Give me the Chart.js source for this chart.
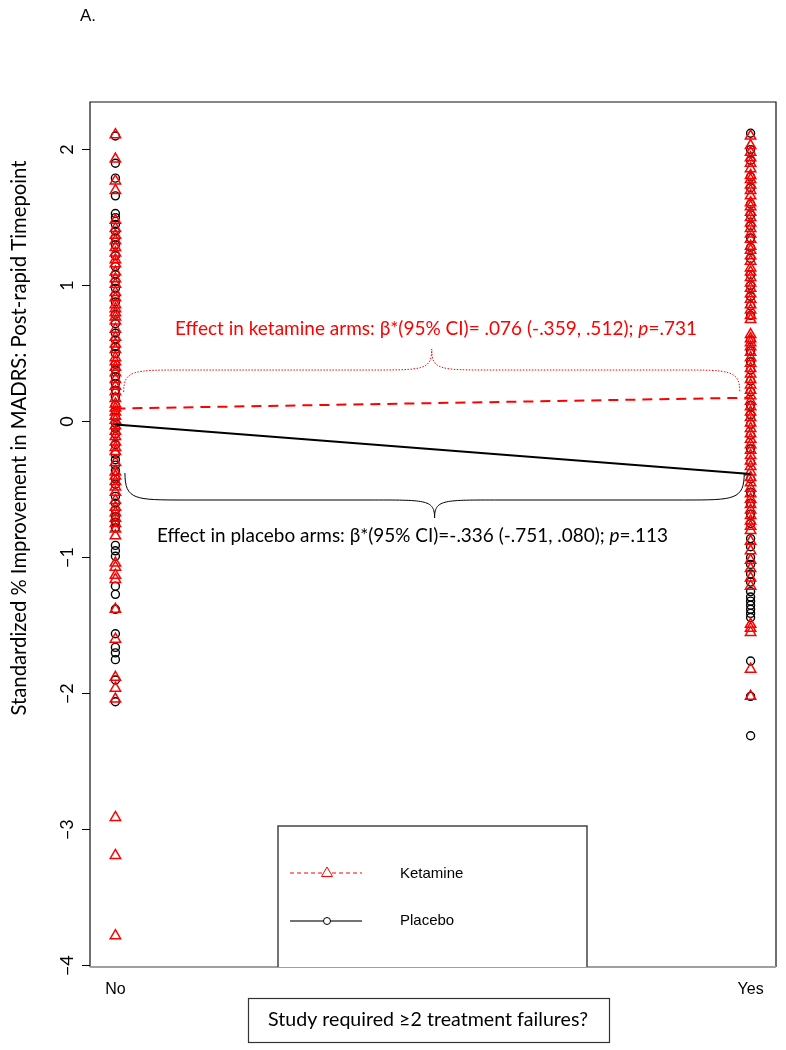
<!DOCTYPE html>
<html><head><meta charset="utf-8">
<script src="https://cdn.jsdelivr.net/npm/chart.js@4.4.0/dist/chart.umd.min.js"></script>
<style>html,body{margin:0;padding:0;background:#fff;}#wrap{position:relative;width:786px;height:1050px;}</style>
</head><body><div id="wrap"><canvas id="c" width="786" height="1050"></canvas></div>
<script>
const groups = ['No', 'Yes'];
const yTicks = [-4, -3, -2, -1, 0, 1, 2];
const ketNo = [2.11, 1.93, 1.77, 1.70, 1.48, 1.42, 1.37, 1.33, 1.28, 1.24, 1.19, 1.16, 1.10, 1.05, 1.01, 0.95, 0.91, 0.86, 0.83, 0.80, 0.77, 0.74, 0.68, 0.62, 0.57, 0.53, 0.47, 0.44, 0.40, 0.36, 0.31, 0.26, 0.22, 0.17, 0.13, 0.10, 0.07, 0.04, 0.01, -0.03, -0.07, -0.11, -0.15, -0.19, -0.22, -0.30, -0.37, -0.40, -0.44, -0.48, -0.52, -0.58, -0.63, -0.67, -0.71, -0.75, -0.79, -0.84, -1.04, -1.07, -1.13, -1.16, -1.38, -1.60, -1.88, -1.96, -2.04, -2.91, -3.19, -3.78];
const plaNo = [2.10, 1.90, 1.79, 1.66, 1.53, 1.50, 1.45, 1.40, 1.35, 1.30, 1.22, 1.14, 1.08, 1.03, 0.98, 0.93, 0.88, 0.79, 0.72, 0.65, 0.60, 0.55, 0.50, 0.42, 0.38, 0.33, 0.28, 0.23, 0.18, 0.12, 0.08, 0.03, -0.01, -0.05, -0.09, -0.17, -0.24, -0.28, -0.32, -0.36, -0.42, -0.46, -0.55, -0.60, -0.65, -0.70, -0.74, -0.78, -0.91, -0.95, -0.99, -1.21, -1.27, -1.38, -1.56, -1.66, -1.70, -1.75, -1.90, -2.06];
const ketYes = [2.10, 2.03, 1.98, 1.94, 1.90, 1.86, 1.81, 1.78, 1.74, 1.70, 1.66, 1.61, 1.58, 1.54, 1.50, 1.46, 1.42, 1.38, 1.34, 1.29, 1.26, 1.22, 1.18, 1.13, 1.10, 1.06, 1.02, 0.98, 0.94, 0.90, 0.86, 0.82, 0.78, 0.75, 0.64, 0.61, 0.58, 0.55, 0.51, 0.47, 0.43, 0.39, 0.35, 0.31, 0.27, 0.23, 0.19, 0.15, 0.11, 0.07, 0.03, -0.01, -0.05, -0.09, -0.13, -0.17, -0.21, -0.25, -0.29, -0.33, -0.37, -0.41, -0.45, -0.49, -0.53, -0.57, -0.61, -0.65, -0.69, -0.73, -0.77, -0.80, -0.88, -0.95, -1.02, -1.08, -1.15, -1.21, -1.49, -1.52, -1.55, -1.82, -2.02];
const plaYes = [2.12, 2.00, 1.92, 1.80, 1.72, 1.60, 1.52, 1.44, 1.35, 1.28, 1.20, 1.08, 1.00, 0.92, 0.85, 0.78, 0.60, 0.52, 0.44, 0.38, 0.30, 0.22, 0.12, 0.05, -0.02, -0.10, -0.20, -0.30, -0.42, -0.52, -0.60, -0.68, -0.75, -0.86, -0.92, -1.00, -1.05, -1.12, -1.18, -1.25, -1.29, -1.32, -1.35, -1.38, -1.41, -1.44, -1.76, -2.02, -2.31];
const ketFit = [0.096, 0.176];
const plaFit = [-0.022, -0.385];
const ketText = ['Effect in ketamine arms: \u03b2*(95% CI)= .076 (-.359, .512); ', 'p', '=.731'];
const plaText = ['Effect in placebo arms: \u03b2*(95% CI)=-.336 (-.751, .080); ', 'p', '=.113'];
const legendLabels = ['Ketamine', 'Placebo'];
const yTitle = 'Standardized % Improvement in MADRS: Post-rapid Timepoint';
const xTitle = 'Study required \u22652 treatment failures?';
const panelLabel = 'A.';

const RED = '#ff0000';
const toPts = (no, yes) => no.map(v => ({x: 0, y: v})).concat(yes.map(v => ({x: 1, y: v})));

function drawSegs(ctx, segs, x, y, width, size, family, color, align) {
  ctx.save();
  ctx.fillStyle = color;
  ctx.textBaseline = 'middle';
  ctx.textAlign = 'left';
  const fonts = segs.map((s, i) => (i === 1 && segs.length === 3 ? 'italic ' : '') + size + 'px ' + family);
  let tot = 0;
  const ws = segs.map((s, i) => { ctx.font = fonts[i]; const w = ctx.measureText(s).width; tot += w; return w; });
  const sc = width ? width / tot : 1;
  const x0 = align === 'center' ? x - tot * sc / 2 : x;
  ctx.translate(x0, y);
  ctx.scale(sc, 1);
  let cx = 0;
  segs.forEach((s, i) => { ctx.font = fonts[i]; ctx.fillText(s, cx, 0); cx += ws[i]; });
  ctx.restore();
}

function brace(ctx, x1, x2, yEnd, yMid, yTip) {
  const xm = (x1 + x2) / 2;
  const d = 60;
  ctx.beginPath();
  ctx.moveTo(x1, yEnd);
  ctx.bezierCurveTo(x1, yMid, x1 + 10, yMid, x1 + d, yMid);
  ctx.lineTo(xm - d, yMid);
  ctx.bezierCurveTo(xm - 8, yMid, xm, yMid, xm, yTip);
  ctx.bezierCurveTo(xm, yMid, xm + 8, yMid, xm + d, yMid);
  ctx.lineTo(x2 - d, yMid);
  ctx.bezierCurveTo(x2 - 10, yMid, x2, yMid, x2, yEnd);
  ctx.stroke();
}

const deco = {
  id: 'deco',
  afterDatasetsDraw(chart) {
    const ctx = chart.ctx;
    const a = chart.chartArea;
    const xs = chart.scales.x, ys = chart.scales.y;
    ctx.save();
    ctx.strokeStyle = '#111';
    ctx.lineWidth = 1.2;
    ctx.beginPath();
    ctx.moveTo(a.left, a.bottom); ctx.lineTo(a.left, a.top); ctx.lineTo(a.right, a.top); ctx.lineTo(a.right, a.bottom);
    ctx.stroke();
    ctx.strokeStyle = '#a0a0a0';
    ctx.lineWidth = 2;
    ctx.beginPath(); ctx.moveTo(a.left, a.bottom); ctx.lineTo(a.right, a.bottom); ctx.stroke();
    yTicks.forEach(t => {
      const py = ys.getPixelForValue(t);
      ctx.save();
      ctx.translate(67, py);
      ctx.rotate(-Math.PI / 2);
      drawSegs(ctx, [String(t).replace('-', '\u2212')], 0, 0, 0, 18, 'Lato', '#000', 'center');
      ctx.restore();
    });
    ctx.save();
    ctx.translate(19, 438);
    ctx.rotate(-Math.PI / 2);
    drawSegs(ctx, [yTitle], 0, 0, 555, 22, 'Lato', '#000', 'center');
    ctx.restore();
    ctx.lineWidth = 1;
    ctx.strokeStyle = RED;
    ctx.setLineDash([1.5, 1.5]);
    brace(ctx, xs.getPixelForValue(0.013), xs.getPixelForValue(0.983), 392, 370, 349);
    ctx.setLineDash([]);
    ctx.strokeStyle = '#000';
    brace(ctx, xs.getPixelForValue(0.015), xs.getPixelForValue(0.99), 473, 500, 518);
    drawSegs(ctx, ketText, 175, 329, 522, 20, 'Lato', RED, 'left');
    drawSegs(ctx, plaText, 157, 536, 511, 20, 'Lato', '#000', 'left');
    ctx.fillStyle = '#fff';
    ctx.fillRect(278, 826, 309, a.bottom - 826);
    ctx.strokeStyle = '#444';
    ctx.lineWidth = 1.5;
    ctx.beginPath(); ctx.moveTo(278, a.bottom); ctx.lineTo(278, 826); ctx.lineTo(587, 826); ctx.lineTo(587, a.bottom); ctx.stroke();
    ctx.strokeStyle = RED; ctx.lineWidth = 1; ctx.setLineDash([4, 3]);
    ctx.beginPath(); ctx.moveTo(290, 873); ctx.lineTo(362, 873); ctx.stroke();
    ctx.setLineDash([]);
    ctx.fillStyle = '#fff';
    ctx.beginPath(); ctx.moveTo(327, 867); ctx.lineTo(332.5, 876.5); ctx.lineTo(321.5, 876.5); ctx.closePath(); ctx.fill(); ctx.stroke();
    ctx.strokeStyle = '#444'; ctx.lineWidth = 1.5;
    ctx.beginPath(); ctx.moveTo(290, 921); ctx.lineTo(362, 921); ctx.stroke();
    ctx.strokeStyle = '#000'; ctx.lineWidth = 1;
    ctx.beginPath(); ctx.arc(327, 921, 3.5, 0, Math.PI * 2); ctx.fill(); ctx.stroke();
    ctx.fillStyle = '#000';
    ctx.font = '15px "Liberation Sans"';
    ctx.textBaseline = 'middle'; ctx.textAlign = 'left';
    ctx.fillText(legendLabels[0], 400, 874);
    ctx.fillText(legendLabels[1], 400, 921);
    ctx.strokeStyle = '#333'; ctx.lineWidth = 1.2;
    ctx.strokeRect(248.5, 998.5, 361, 44);
    drawSegs(ctx, [xTitle], 428, 1020, 320, 20, 'Lato', '#000', 'center');
    ctx.fillStyle = '#000';
    ctx.font = '17px "Liberation Sans"';
    ctx.textAlign = 'left'; ctx.textBaseline = 'middle';
    ctx.fillText(panelLabel, 80, 16);
    ctx.restore();
  }
};

new Chart(document.getElementById('c'), {
  type: 'scatter',
  data: {
    datasets: [
      {label: 'Ketamine fit', type: 'line', data: [{x: 0, y: ketFit[0]}, {x: 1, y: ketFit[1]}], borderColor: RED, borderWidth: 2, borderDash: [10, 7], pointRadius: 0, fill: false},
      {label: 'Placebo fit', type: 'line', data: [{x: 0, y: plaFit[0]}, {x: 1, y: plaFit[1]}], borderColor: '#000', borderWidth: 2, pointRadius: 0, fill: false},
      {label: legendLabels[0], data: toPts(ketNo, ketYes), pointStyle: 'triangle', pointRadius: 6, borderColor: RED, backgroundColor: 'rgba(0,0,0,0)', pointBorderWidth: 1.5},
      {label: legendLabels[1], data: toPts(plaNo, plaYes), pointStyle: 'circle', pointRadius: 4, borderColor: '#000', backgroundColor: 'rgba(0,0,0,0)', pointBorderWidth: 1.4}
    ]
  },
  options: {
    responsive: false,
    animation: false,
    events: [],
    layout: {padding: {top: 102, right: 10, left: 0, bottom: 0}},
    plugins: {legend: {display: false}, tooltip: {enabled: false}},
    scales: {
      x: {
        type: 'linear', min: -0.04, max: 1.04,
        afterBuildTicks: s => { s.ticks = [0, 1].map(v => ({value: v})); },
        afterFit: s => { s.height = 83; },
        grid: {display: false, drawTicks: false},
        border: {display: false},
        ticks: {callback: v => groups[v], font: {family: 'Liberation Sans', size: 16}, color: '#000', padding: 13, maxRotation: 0}
      },
      y: {
        type: 'linear', min: -4.01, max: 2.35,
        afterBuildTicks: s => { s.ticks = yTicks.map(v => ({value: v})); },
        afterFit: s => { s.width = 90; },
        grid: {drawOnChartArea: false, tickLength: 8, color: '#000'},
        border: {display: false},
        ticks: {display: false}
      }
    }
  },
  plugins: [deco]
});
</script></body></html>
